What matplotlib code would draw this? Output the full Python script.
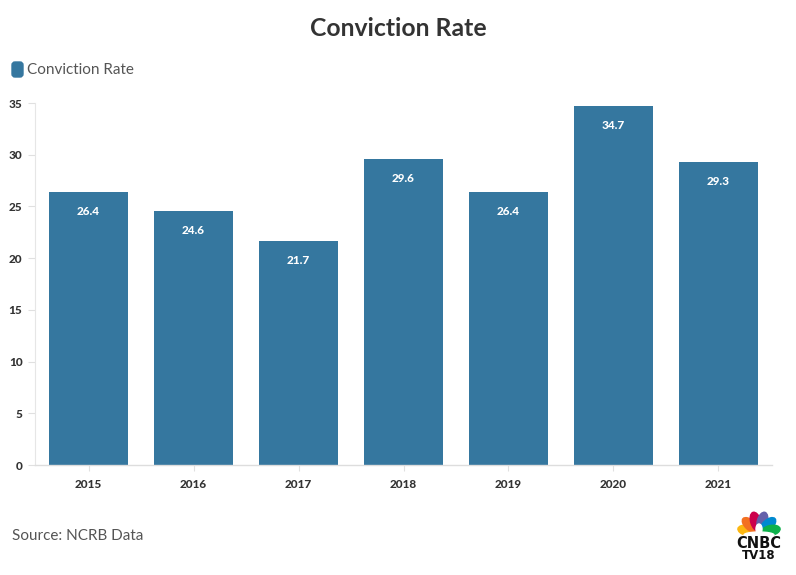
import math
import matplotlib
matplotlib.use("Agg")
import matplotlib.pyplot as plt
from matplotlib.patches import FancyBboxPatch, Ellipse

years = ["2015", "2016", "2017", "2018", "2019", "2020", "2021"]
conviction_rate = [26.4, 24.6, 21.7, 29.6, 26.4, 34.7, 29.3]
y_ticks = [0, 5, 10, 15, 20, 25, 30, 35]

BAR = "#35779f"
FONT = "Lato"

fig = plt.figure(figsize=(7.96, 5.75), dpi=100)
ax = fig.add_axes([35/796, 110/575, (772-35)/796, (465-103)/575])

x = list(range(len(years)))
ax.bar(x, conviction_rate, width=0.75, color=BAR, zorder=2)
for xi, v in zip(x, conviction_rate):
    ax.annotate(f"{v}", (xi, v), xytext=(0, -14), textcoords="offset points",
                ha="center", va="center", color="white", fontsize=8.5,
                fontweight="black", family=FONT)

ax.set_xlim(-0.51, len(years) - 0.49)
ax.set_ylim(0, 35)
ax.set_xticks(x)
ax.set_xticklabels(years, fontsize=8.5, fontweight="black", family=FONT, color="#333333")
ax.set_yticks(y_ticks)
ax.set_yticklabels([str(t) for t in y_ticks], fontsize=8.5, fontweight="black",
                   family=FONT, color="#333333")
ax.tick_params(axis="x", length=4, color="#e0e0e0", pad=6)
ax.tick_params(axis="y", length=5, color="#e0e0e0", pad=4)
for s in ["top", "right"]:
    ax.spines[s].set_visible(False)
ax.spines["left"].set_color("#e6e6e6")
ax.spines["bottom"].set_color("#dddddd")
ax.spines["left"].set_linewidth(0.8)
ax.spines["bottom"].set_linewidth(1.0)

fig.text(398/796, 1 - 28/575, "Conviction Rate", ha="center", va="center",
         fontsize=17.8, fontweight="bold", family=FONT, color="#333333")

# overlay in pixel coordinates (y down)
ov = fig.add_axes([0, 0, 1, 1], facecolor="none")
ov.set_xlim(0, 796)
ov.set_ylim(575, 0)
ov.axis("off")
ov.add_patch(FancyBboxPatch((12, 62), 11, 15, boxstyle="round,pad=0,rounding_size=3",
                            color=BAR))
ov.text(27, 70, "Conviction Rate", ha="left", va="center", fontsize=11,
        family=FONT, color="#555555")
ov.text(12, 536, "Source: NCRB Data", ha="left", va="center", fontsize=11,
        family=FONT, color="#555555")

# CNBC TV18 logo
cx, cy = 759, 533
feathers = [(168, "#fcb711"), (138, "#f37021"), (106, "#cc004c"),
            (74, "#6460aa"), (42, "#0089d0"), (12, "#0db14b")]
for ang, c in feathers:
    t = math.radians(ang)
    r = 12
    ov.add_patch(Ellipse((cx + r * math.cos(t), cy - r * math.sin(t)), 19, 10,
                         angle=-ang, color=c))
ov.add_patch(Ellipse((cx, cy - 4), 6, 10, color="white"))
ov.add_patch(Ellipse((cx, cy + 2), 30, 6, color="white"))
ov.text(cx, 543, "CNBC", ha="center", va="center", fontsize=10.5,
        fontweight="heavy", family="DejaVu Sans", color="#111111")
ov.text(cx, 555.5, "TV18", ha="center", va="center", fontsize=8.5,
        fontweight="heavy", family="DejaVu Sans", color="#111111")

fig.savefig("out.png", dpi=100)
